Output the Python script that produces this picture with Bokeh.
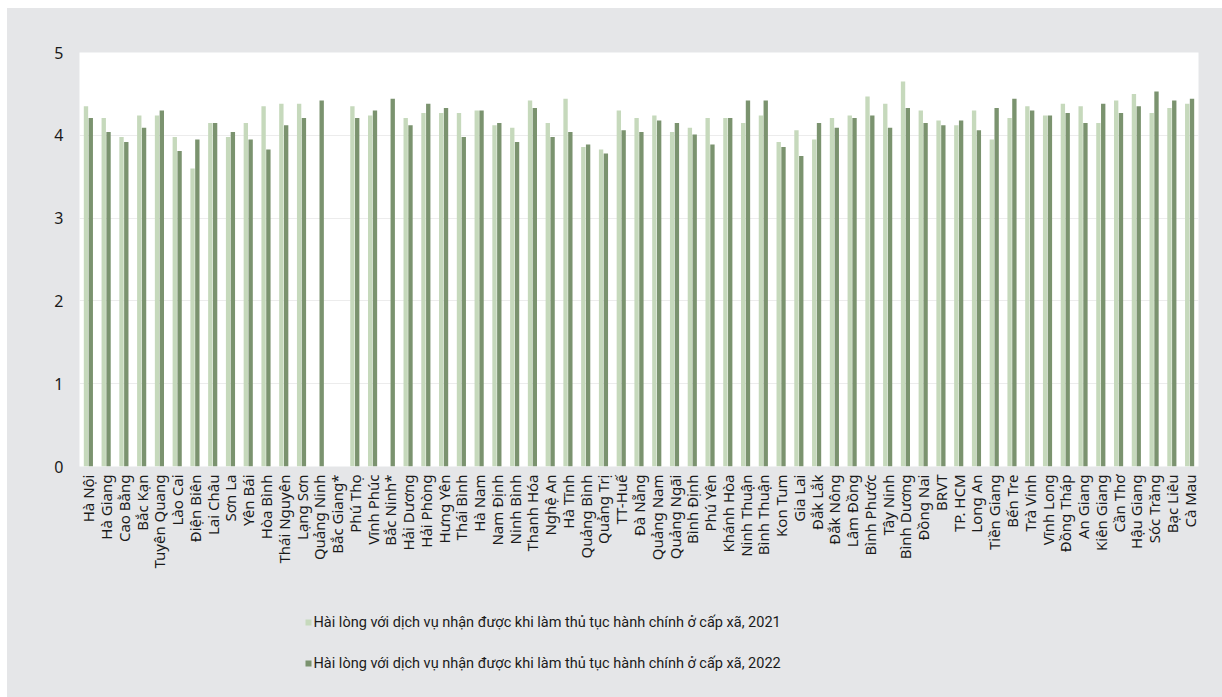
from bokeh.plotting import figure
from bokeh.layouts import column
from bokeh.models import ColumnDataSource, FactorRange, FixedTicker
from bokeh.core.properties import value
from bokeh.transform import dodge
from bokeh.embed import file_html
from bokeh.resources import INLINE
import math

nan = float("nan")

provinces = [
    "Hà Nội", "Hà Giang", "Cao Bằng", "Bắc Kạn", "Tuyên Quang", "Lào Cai", "Điện Biên",
    "Lai Châu", "Sơn La", "Yên Bái", "Hòa Bình", "Thái Nguyên", "Lạng Sơn", "Quảng Ninh",
    "Bắc Giang*", "Phú Thọ", "Vĩnh Phúc", "Bắc Ninh*", "Hải Dương", "Hải Phòng", "Hưng Yên",
    "Thái Bình", "Hà Nam", "Nam Định", "Ninh Bình", "Thanh Hóa", "Nghệ An", "Hà Tĩnh",
    "Quảng Bình", "Quảng Trị", "TT-Huế", "Đà Nẵng", "Quảng Nam", "Quảng Ngãi", "Bình Định",
    "Phú Yên", "Khánh Hòa", "Ninh Thuận", "Bình Thuận", "Kon Tum", "Gia Lai", "Đắk Lắk",
    "Đắk Nông", "Lâm Đồng", "Bình Phước", "Tây Ninh", "Bình Dương", "Đồng Nai", "BRVT",
    "TP. HCM", "Long An", "Tiền Giang", "Bến Tre", "Trà Vinh", "Vĩnh Long", "Đồng Tháp",
    "An Giang", "Kiên Giang", "Cần Thơ", "Hậu Giang", "Sóc Trăng", "Bạc Liêu", "Cà Mau",
]

sat_2021 = [
    4.35, 4.21, 3.98, 4.24, 4.24, 3.98, 3.60,
    4.15, 3.98, 4.15, 4.35, 4.38, 4.38, nan,
    nan, 4.35, 4.24, nan, 4.21, 4.27, 4.27,
    4.27, 4.30, 4.12, 4.09, 4.42, 4.15, 4.44,
    3.86, 3.83, 4.30, 4.21, 4.24, 4.04, 4.09,
    4.21, 4.21, 4.15, 4.24, 3.92, 4.06, 3.95,
    4.21, 4.24, 4.47, 4.38, 4.65, 4.30, 4.18,
    4.12, 4.30, 3.95, 4.21, 4.35, 4.24, 4.38,
    4.35, 4.15, 4.42, 4.50, 4.27, 4.33, 4.38,
]

sat_2022 = [
    4.21, 4.04, 3.92, 4.09, 4.30, 3.81, 3.95,
    4.15, 4.04, 3.95, 3.83, 4.12, 4.21, 4.42,
    nan, 4.21, 4.30, 4.44, 4.12, 4.38, 4.33,
    3.98, 4.30, 4.15, 3.92, 4.33, 3.98, 4.04,
    3.89, 3.78, 4.06, 4.04, 4.18, 4.15, 4.01,
    3.89, 4.21, 4.42, 4.42, 3.86, 3.75, 4.15,
    4.09, 4.21, 4.24, 4.09, 4.33, 4.15, 4.12,
    4.18, 4.06, 4.33, 4.44, 4.30, 4.24, 4.27,
    4.15, 4.38, 4.27, 4.35, 4.53, 4.42, 4.44,
]

y_ticks = [0, 1, 2, 3, 4, 5]

series_labels = [
    "Hài lòng với dịch vụ nhận được khi làm thủ tục hành chính ở cấp xã, 2021",
    "Hài lòng với dịch vụ nhận được khi làm thủ tục hành chính ở cấp xã, 2022",
]

c2021 = "#c6d9bc"
c2022 = "#7b936f"
series_colors = [c2021, c2022]
bg = "#e5e6e8"
font = "Noto Sans"

BL, BR = 72, 24          # left / right borders shared by both figures
W = 1215
FRAME_W = W - BL - BR

source = ColumnDataSource(dict(prov=provinces, y2021=sat_2021, y2022=sat_2022))

# ---- main chart ----
p = figure(
    x_range=FactorRange(factors=provinces, range_padding=0),
    y_range=(0, 5),
    width=W, height=592,
    output_backend="svg", toolbar_location=None,
    background_fill_color="white",
    border_fill_color=bg,
    outline_line_color=None,
    min_border_left=BL, min_border_right=BR, min_border_top=44, min_border_bottom=134,
)

p.vbar(x=dodge("prov", -0.135, range=p.x_range), top="y2021", width=0.245,
       source=source, fill_color=c2021, line_color=None)
p.vbar(x=dodge("prov", 0.135, range=p.x_range), top="y2022", width=0.245,
       source=source, fill_color=c2022, line_color=None)

p.xgrid.grid_line_color = None
p.ygrid.grid_line_color = "#ececec"
p.ygrid.grid_line_width = 1

p.yaxis.ticker = FixedTicker(ticks=y_ticks)
p.yaxis.axis_line_color = None
p.yaxis.major_tick_line_color = None
p.yaxis.minor_tick_line_color = None
p.yaxis.major_tick_out = 0
p.yaxis.major_label_standoff = 16
p.yaxis.major_label_text_font = font
p.yaxis.major_label_text_font_size = "16px"
p.yaxis.major_label_text_color = "#1a1a1a"

p.xaxis.axis_line_color = None
p.xaxis.major_tick_line_color = None
p.xaxis.minor_tick_line_color = None
p.xaxis.major_tick_out = 0
p.xaxis.major_label_standoff = 8
p.xaxis.major_label_orientation = math.pi / 2
p.xaxis.major_label_text_font = font
p.xaxis.major_label_text_font_size = "15px"
p.xaxis.major_label_text_color = "#1a1a1a"

# ---- legend strip (same grey panel), frame in pixel units ----
LH = 97
p2 = figure(
    width=W, height=LH,
    x_range=(0, FRAME_W), y_range=(0, LH),
    x_axis_location=None, y_axis_location=None,
    output_backend="svg", toolbar_location=None,
    background_fill_color=bg, border_fill_color=bg,
    outline_line_color=None,
    min_border_left=BL, min_border_right=BR, min_border_top=0, min_border_bottom=0,
)
p2.grid.visible = False

legend_src = ColumnDataSource(dict(
    gx=[229, 229],
    tx=[234, 234],
    y=[LH - 22, LH - 63],
    label=series_labels,
    color=series_colors,
))
p2.scatter(x="gx", y="y", marker="square", size=6, source=legend_src,
           fill_color="color", line_color=None)
p2.text(x="tx", y="y", text="label", source=legend_src,
        text_font=value("Roboto"), text_font_size="14.5px", text_color="#1a1a1a",
        text_baseline="middle", text_align="left")

layout = column(p, p2, spacing=0, margin=(8, 0, 0, 7),
                styles={"background-color": bg})

open("out.html", "w").write(file_html(layout, INLINE))
